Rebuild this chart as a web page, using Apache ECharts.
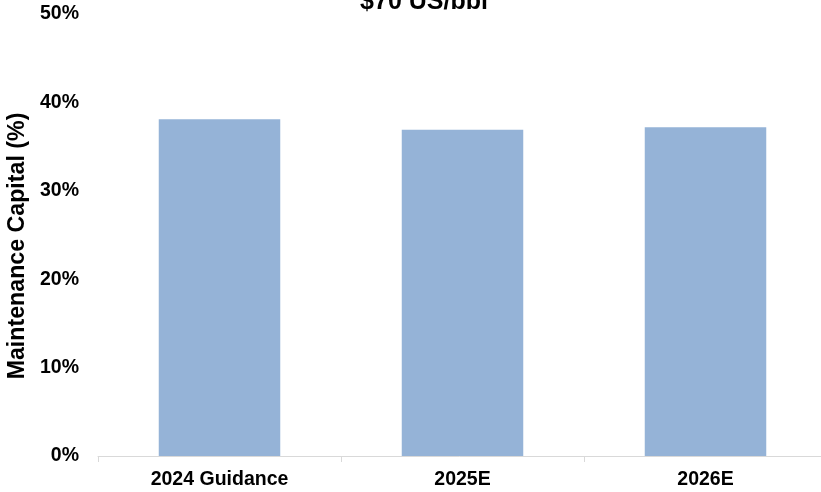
<!DOCTYPE html>
<html><head><meta charset="utf-8">
<script src="https://cdn.jsdelivr.net/npm/echarts@6/dist/echarts.min.js"></script>
<style>html,body{margin:0;padding:0;background:#fff}#c{width:821px;height:492px}</style>
</head><body><div id="c"></div>
<script>
const categories = ['2024 Guidance', '2025E', '2026E'];
const maintenanceCapital = [38.1, 36.9, 37.2];
const titleText = '$70 US/bbl';
const yAxisName = 'Maintenance Capital (%)';

const chart = echarts.init(document.getElementById('c'));
const F = 'Liberation Sans, Arial, sans-serif';
chart.setOption({
  animation: false,
  title: { text: titleText, left: 419, top: -15, textAlign: 'center',
    textStyle: { fontFamily: F, fontWeight: 'bold', fontSize: 25, color: '#000' } },
  grid: { left: 98, right: -6, top: 14, bottom: 36, containLabel: false, outerBoundsMode: 'none' },
  xAxis: {
    type: 'category', data: categories,
    axisLine: { lineStyle: { color: '#d9d9d9', width: 1 } },
    axisTick: { show: true, length: 6, lineStyle: { color: '#d9d9d9' } },
    axisLabel: { fontFamily: F, fontWeight: 'bold', fontSize: 19.5, color: '#000', margin: 14 }
  },
  yAxis: {
    type: 'value', min: 0, max: 50, interval: 10,
    name: yAxisName, nameLocation: 'middle', nameGap: 57, nameRotate: 90,
    nameTextStyle: { fontFamily: F, fontWeight: 'bold', fontSize: 23.2, color: '#000', padding: [0, 22, 0, 0] },
    axisLine: { show: false }, axisTick: { show: false }, splitLine: { show: false },
    axisLabel: { formatter: '{value}%', fontFamily: F, fontWeight: 'bold', fontSize: 19.5, color: '#000', margin: 19 }
  },
  series: [{
    type: 'bar', data: maintenanceCapital, barWidth: '50%',
    itemStyle: { color: '#95b3d7' }
  }]
});
</script></body></html>
